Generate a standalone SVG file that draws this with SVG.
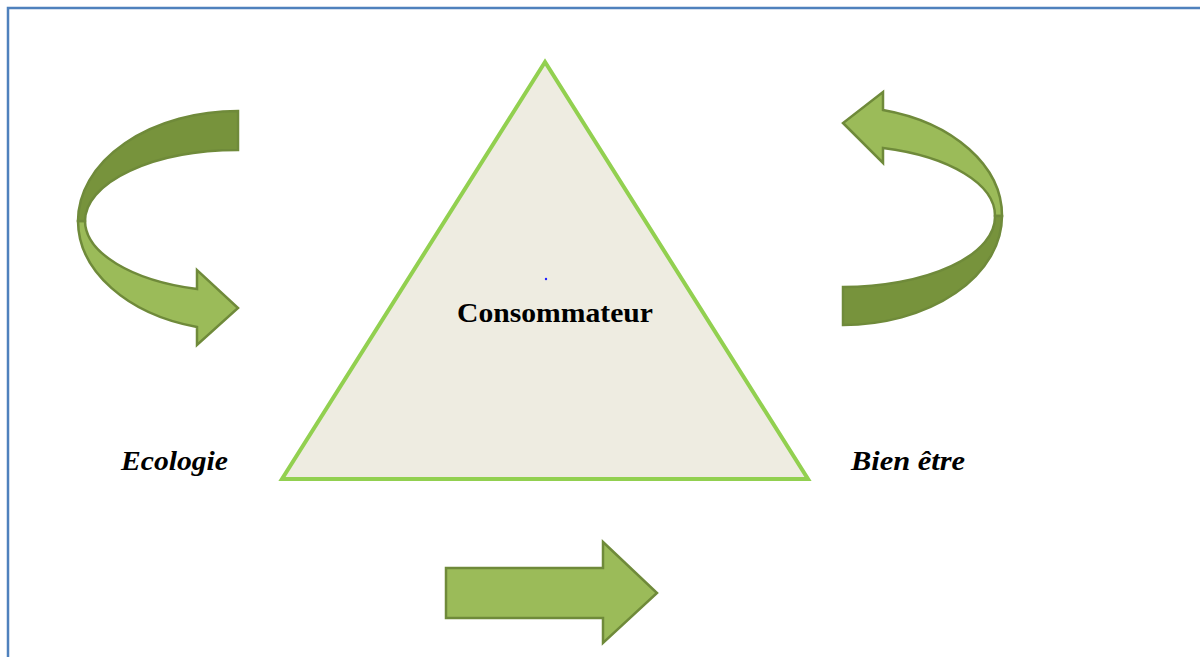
<svg xmlns="http://www.w3.org/2000/svg" width="1200" height="657" viewBox="0 0 1200 657">
<style>
.dark{fill:#77933c;stroke:#6f8a3a;stroke-width:2.5;stroke-linejoin:miter}
.light{fill:#9bbb59;stroke:#6f8a3a;stroke-width:2.5;stroke-linejoin:miter}
.lbl{font-family:"Liberation Serif",serif;font-weight:bold;fill:#000}
.it{font-style:italic}
</style>
<rect width="1200" height="657" fill="#ffffff"/>
<path d="M8,657 V8 H1200" fill="none" stroke="#4f81bd" stroke-width="2.5"/>
<g id="consommateur">
<polygon points="545,62 282,479 808,479" fill="#eeece1" stroke="#92d050" stroke-width="4"/>
<circle cx="546" cy="279" r="1.2" fill="#2020ff"/>
<text class="lbl" x="457" y="322" font-size="28" textLength="196" lengthAdjust="spacingAndGlyphs">Consommateur</text>
</g>
<g id="ecologie">
<text class="lbl it" x="121" y="470" font-size="28" textLength="107" lengthAdjust="spacingAndGlyphs">Ecologie</text>
</g>
<g id="bien-etre">
<text class="lbl it" x="851" y="470" font-size="28" textLength="114" lengthAdjust="spacingAndGlyphs">Bien être</text>
</g>
<g id="connectors">
<g id="arrow-left">
<path class="light" d="M85,221 A153 71 0 0 0 197,289 L197,270 L238,308 L197,345 L197,327 A160 110 0 0 1 78,221 Z"/>
<path class="dark" d="M238,111 A160 110 0 0 0 78,221 L85,221 A153 71 0 0 1 238,150 Z"/>
</g>
<g id="arrow-right">
<path class="light" d="M883,110 A159 109 0 0 1 1002,216 L995,216 A152 70 0 0 0 883,148 L883,163 L843,123 L883,92 Z"/>
<path class="dark" d="M1002,216 A159 109 0 0 1 843,325 L843,287 A152 70 0 0 0 995,216 Z"/>
</g>
<g id="arrow-bottom">
<path class="light" d="M446,568 H603 V542 L657,593 L603,643 V618 H446 Z"/>
</g>
</g>
</svg>
